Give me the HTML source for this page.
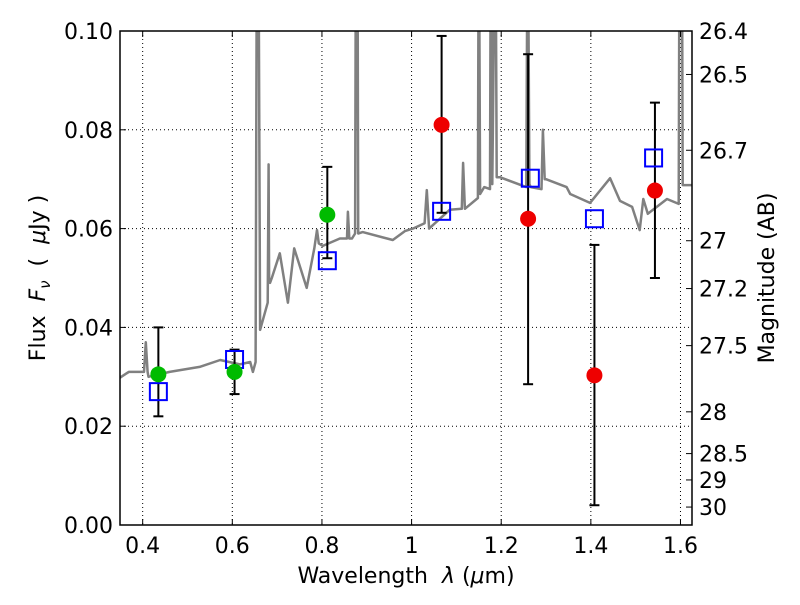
<!DOCTYPE html>
<html><head><meta charset="utf-8"><style>
body{margin:0;background:#fff}
svg{font-family:"DejaVu Sans","Liberation Sans",sans-serif}
</style></head><body>
<svg id="chart" width="800" height="600" xmlns="http://www.w3.org/2000/svg">
<defs><clipPath id="clip"><rect x="120" y="31" width="572" height="494"/></clipPath></defs>
<g id="grid"></g><g id="spec" clip-path="url(#clip)"></g><g id="marks"></g><g id="axes"></g>
</svg>
<script>
const specLam=[0.349,0.369,0.403,0.407,0.411,0.413,0.460,0.527,0.573,0.617,0.640,0.646,0.652,0.655,0.658,0.662,0.679,0.681,0.682,0.684,0.688,0.706,0.724,0.738,0.766,0.783,0.789,0.793,0.802,0.840,0.856,0.858,0.861,0.867,0.874,0.876,0.879,0.881,0.891,0.958,0.985,1.003,1.029,1.034,1.039,1.085,1.112,1.115,1.119,1.148,1.150,1.153,1.162,1.175,1.177,1.180,1.187,1.190,1.197,1.256,1.259,1.263,1.266,1.290,1.293,1.297,1.300,1.346,1.354,1.398,1.443,1.465,1.492,1.509,1.517,1.527,1.570,1.596,1.598,1.603,1.605,1.626];
const specFlux=[0.0298,0.031,0.031,0.037,0.031,0.030,0.031,0.032,0.0334,0.0325,0.033,0.031,0.033,0.13,0.13,0.0395,0.045,0.073,0.05,0.049,0.050,0.055,0.045,0.056,0.048,0.056,0.0597,0.057,0.0565,0.058,0.058,0.0634,0.058,0.058,0.059,0.13,0.13,0.059,0.0593,0.0577,0.0595,0.060,0.0611,0.0678,0.060,0.0638,0.064,0.0733,0.064,0.0662,0.13,0.067,0.0684,0.068,0.13,0.069,0.13,0.0704,0.0704,0.0684,0.13,0.069,0.0684,0.068,0.080,0.070,0.070,0.0684,0.067,0.0652,0.0702,0.0656,0.0644,0.0597,0.066,0.063,0.066,0.065,0.13,0.13,0.0688,0.0688];
const photLam=[0.435,0.605,0.812,1.067,1.26,1.408,1.543];
const photFlux=[0.0305,0.031,0.0628,0.081,0.062,0.0303,0.0677];
const errLo=[0.022,0.0265,0.054,0.0632,0.0285,0.004,0.050];
const errHi=[0.040,0.0355,0.0725,0.099,0.0953,0.0567,0.0855];
const photColor=['#00bb00','#00bb00','#00bb00','#ee0000','#ee0000','#ee0000','#ee0000'];
const modelLam=[0.435,0.605,0.812,1.067,1.265,1.408,1.540];
const modelFlux=[0.027,0.0335,0.0535,0.0635,0.0702,0.062,0.0743];
const xTicks=[0.4,0.6,0.8,1.0,1.2,1.4,1.6];
const xTickLabels=['0.4','0.6','0.8','1','1.2','1.4','1.6'];
const yTicks=[0,0.02,0.04,0.06,0.08,0.10];
const yTickLabels=['0.00','0.02','0.04','0.06','0.08','0.10'];
const magTicks=[26.4,26.5,26.7,27,27.2,27.5,28,28.5,29,30];
const magLabels=['26.4','26.5','26.7','27','27.2','27.5','28','28.5','29','30'];

const X0=120,X1=692,Y0=525,Y1=31;
const XMIN=0.3494,XMAX=1.6257;
const xs=v=>X0+(v-XMIN)/(XMAX-XMIN)*(X1-X0);
const ys=v=>Y0-v/0.10*(Y0-Y1);
const NS='http://www.w3.org/2000/svg';
function mk(p,t,a){const e=document.createElementNS(NS,t);for(const k in a)e.setAttribute(k,a[k]);document.getElementById(p).appendChild(e);return e;}

xTicks.forEach((v,i)=>{const x=xs(v);
 let g=mk('grid','line',{x1:x,x2:x,y1:Y1,y2:Y0,stroke:'#000','stroke-width':1,'stroke-dasharray':'1,3'});
 
 mk('axes','line',{x1:x,x2:x,y1:Y0,y2:Y0-6,stroke:'#000'});mk('axes','line',{x1:x,x2:x,y1:Y1,y2:Y1+6,stroke:'#000'});
 let t=mk('axes','text',{x:x,y:Y0+28,'font-size':22,'text-anchor':'middle'});t.textContent=xTickLabels[i];
 });
yTicks.forEach((v,i)=>{const y=ys(v);
 let g=mk('grid','line',{x1:X0,x2:X1,y1:y,y2:y,stroke:'#000','stroke-width':1,'stroke-dasharray':'1,3'});
 
 mk('axes','line',{x1:X0,x2:X0+6,y1:y,y2:y,stroke:'#000'});
 let t=mk('axes','text',{x:X0-7,y:y+8,'font-size':22,'text-anchor':'end'});t.textContent=yTickLabels[i];
 });
magTicks.forEach((m,i)=>{const f=Math.pow(10,(23.9-m)/2.5);const y=ys(f);
 mk('axes','line',{x1:X1,x2:X1-6,y1:y,y2:y,stroke:'#000'});
 let t=mk('axes','text',{x:X1+7,y:y+8,'font-size':22});t.textContent=magLabels[i];
 });

let pts=specLam.map((l,i)=>xs(l).toFixed(1)+','+ys(specFlux[i]).toFixed(1)).join(' ');
let sp=mk('spec','polyline',{points:pts,fill:'none',stroke:'#808080','stroke-width':2.5,'stroke-linejoin':'round'});


photLam.forEach((l,i)=>{const x=xs(l);
 let e=mk('marks','line',{x1:x,x2:x,y1:ys(errLo[i]),y2:ys(errHi[i]),stroke:'#000','stroke-width':2});
 
 [errLo[i],errHi[i]].forEach(v=>mk('marks','line',{x1:x-5,x2:x+5,y1:ys(v),y2:ys(v),stroke:'#000','stroke-width':2}));});
modelLam.forEach((l,i)=>{
 let r=mk('marks','rect',{x:xs(l)-8.5,y:ys(modelFlux[i])-8.5,width:17,height:17,fill:'none',stroke:'#0000ff','stroke-width':2});
 });
photLam.forEach((l,i)=>{
 let c=mk('marks','circle',{cx:xs(l),cy:ys(photFlux[i]),r:8,fill:photColor[i]});
 });

let fr=mk('axes','rect',{x:X0,y:Y1,width:X1-X0,height:Y0-Y1,fill:'none',stroke:'#000','stroke-width':1.5});

</script>
<svg style="position:absolute;left:0;top:0" width="800" height="600" xmlns="http://www.w3.org/2000/svg" font-family="DejaVu Sans, Liberation Sans, sans-serif">
<text x="406" y="583" font-size="22" text-anchor="middle" xml:space="preserve">Wavelength  <tspan font-style="italic">λ</tspan> (<tspan font-style="italic">μ</tspan>m)</text>
<text transform="translate(45,278) rotate(-90)" font-size="22" text-anchor="middle" xml:space="preserve">Flux  <tspan font-style="italic">F<tspan font-size="15" dy="5">ν</tspan></tspan><tspan dy="-5">  (  </tspan><tspan font-style="italic">μ</tspan>Jy )</text>
<text transform="translate(774,278) rotate(-90)" font-size="22" text-anchor="middle">Magnitude (AB)</text>
</svg>
</body></html>
